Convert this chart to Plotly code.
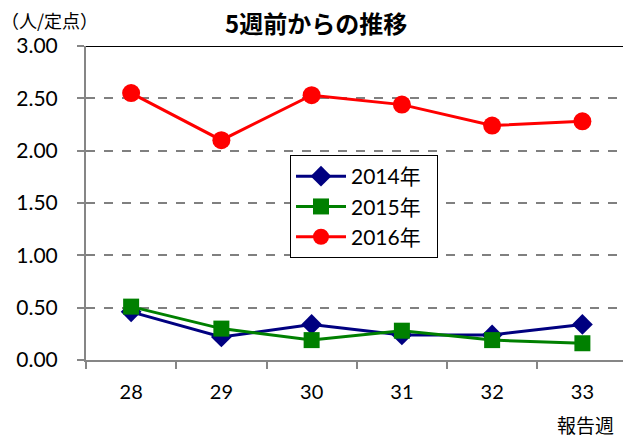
import plotly.graph_objects as go

weeks = ["28", "29", "30", "31", "32", "33"]
y2014 = [0.46, 0.22, 0.34, 0.24, 0.24, 0.34]
y2015 = [0.51, 0.30, 0.19, 0.28, 0.19, 0.16]
y2016 = [2.55, 2.10, 2.53, 2.44, 2.24, 2.28]
series_names = ["2014年", "2015年", "2016年"]
y_ticks = [0, 0.5, 1.0, 1.5, 2.0, 2.5, 3.0]
y_tick_labels = ["0.00", "0.50", "1.00", "1.50", "2.00", "2.50", "3.00"]

FONT = "Lato, 'Noto Sans CJK JP', sans-serif"
JP = "'Noto Sans CJK JP', sans-serif"
PAD = "\u00a0\u00a0"

fig = go.Figure()
fig.add_trace(go.Scatter(x=weeks, y=y2014, name=series_names[0] + PAD, mode="lines+markers",
                         line=dict(color="#000080", width=3),
                         marker=dict(symbol="diamond", size=16, color="#000080")))
fig.add_trace(go.Scatter(x=weeks, y=y2015, name=series_names[1] + PAD, mode="lines+markers",
                         line=dict(color="#008000", width=3),
                         marker=dict(symbol="square", size=16, color="#008000")))
fig.add_trace(go.Scatter(x=weeks, y=y2016, name=series_names[2] + PAD, mode="lines+markers",
                         line=dict(color="#FF0000", width=3),
                         marker=dict(symbol="circle", size=18, color="#FF0000")))

L, T, B, R = 86, 46, 78, 0
W, H = 623, 438
pw, ph = W - L - R, H - T - B

def px2paper(px, py):
    return (px - L) / pw, (H - B - py) / ph

annots = []
for text, px, py, size in [("<b>5週前からの推移</b>", 316, 23, 24),
                           ("（人/定点）", 49, 20, 18),
                           ("報告週", 585, 424, 19)]:
    ax, ay = px2paper(px, py)
    annots.append(dict(text=text, xref="paper", yref="paper", x=ax, y=ay,
                       xanchor="center", yanchor="middle", showarrow=False,
                       font=dict(size=size, family=JP, color="black")))

fig.update_layout(
    width=W, height=H,
    margin=dict(l=L, r=R, t=T, b=B),
    paper_bgcolor="white", plot_bgcolor="white",
    font=dict(family=FONT, size=20, color="black"),
    showlegend=True,
    legend=dict(x=(290 - L) / pw, y=(H - B - 155) / ph, xanchor="left", yanchor="top",
                bordercolor="black", borderwidth=1, bgcolor="white",
                font=dict(size=21, family=FONT), itemwidth=50,
                tracegroupgap=0),
    xaxis=dict(type="category", range=[-0.5, 5.45], showgrid=False,
               showline=True, linecolor="#868686", linewidth=2,
               ticks="outside", tickson="boundaries", ticklen=7,
               tickcolor="#868686", tickwidth=2, ticklabelstandoff=13,
               tickfont=dict(size=20)),
    yaxis=dict(range=[0, 3], tickvals=y_ticks, ticktext=y_tick_labels,
               showgrid=True, gridcolor="#808080", griddash="dash", gridwidth=1.5,
               showline=True, linecolor="#868686", linewidth=2,
               ticks="outside", ticklen=7, tickcolor="#868686", tickwidth=2,
               ticklabelstandoff=15, tickfont=dict(size=21), zeroline=False),
    shapes=[dict(type="line", xref="paper", yref="y", x0=0, x1=1, y0=3, y1=3,
                 line=dict(color="black", width=2))],
    annotations=annots,
)

fig.write_html("out.html", config={"displayModeBar": False},
               post_script="document.body.style.margin='0px';document.body.style.overflow='hidden';")
